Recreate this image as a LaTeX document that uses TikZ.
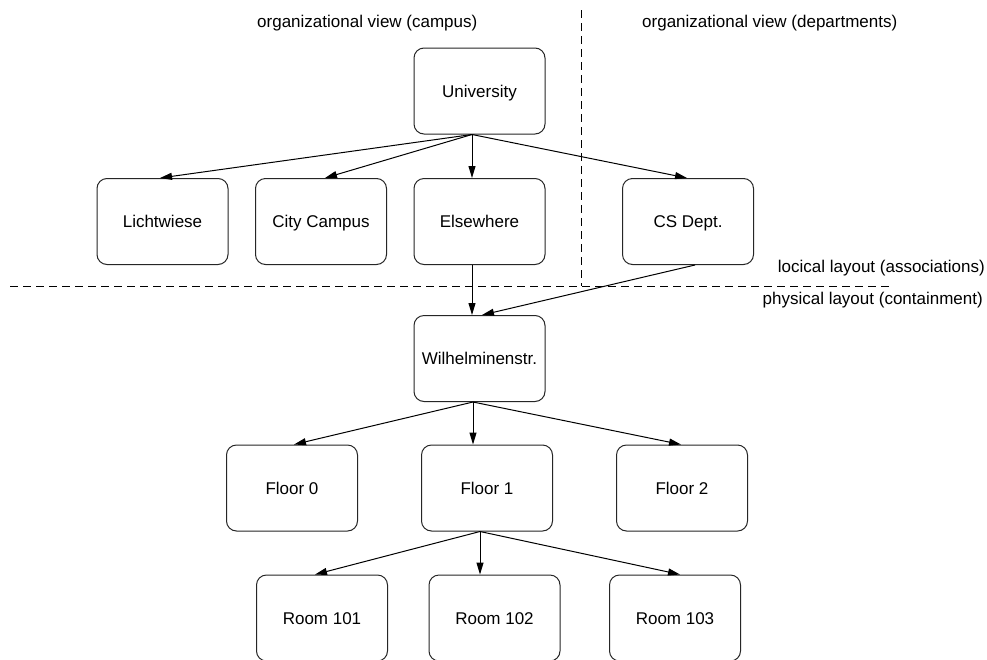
\documentclass[tikz,border=0pt]{standalone}
\usepackage{fontspec}
\setmainfont{Liberation Sans}
\usetikzlibrary{arrows.meta}

\begin{document}
\begin{tikzpicture}[x=1pt,y=-1pt,
  every node/.style={font=\fontsize{17}{20}\selectfont},
  box/.style={draw=black!85, line width=1pt, rounded corners=10pt,
    minimum width=131pt, minimum height=86pt, inner sep=0pt,
    text height=12pt, text depth=0pt},
  link/.style={line width=1pt, -{Triangle[length=12pt,width=7pt]}},
  divider/.style={line width=0.9pt, dash pattern=on 8pt off 5pt},
  caption/.style={inner sep=0pt}]

  \fill[white] (0,0) rectangle (987,659);
  \clip (0,0) rectangle (987,659);
  \useasboundingbox (0,0) rectangle (987,659);

  % section separators
  \coordinate (vtop) at (581,10);
  \coordinate (vbot) at (581,286);
  \coordinate (hleft) at (10,286);
  \coordinate (hright) at (893,286);
  \draw[divider] (vtop) -- (vbot);
  \draw[divider] (hleft) -- (hright);

  % section captions
  \node[caption, anchor=base west] (capcampus) at (257,27) {organizational view (campus)};
  \node[caption, anchor=base west] (capdept) at (642,27) {organizational view (departments)};
  \node[caption, anchor=base east] (caplogic) at (985,272) {locical layout (associations)};
  \node[caption, anchor=base east] (capphys) at (983,304) {physical layout (containment)};

  % organizational level
  \node[box] (uni) at (479.5,91) {University};
  \node[box] (lw) at (162.5,221.5) {Lichtwiese};
  \node[box] (cc) at (321,221.5) {City Campus};
  \node[box] (el) at (479.5,221.5) {Elsewhere};
  \node[box] (cs) at (688,221.5) {CS Dept.};

  % physical level
  \node[box] (wi) at (479.5,358.5) {Wilhelminenstr.};
  \node[box] (f0) at (292,488) {Floor 0};
  \node[box] (f1) at (487,488) {Floor 1};
  \node[box] (f2) at (682,488) {Floor 2};
  \node[box] (r101) at (322,618) {Room 101};
  \node[box] (r102) at (494.5,618) {Room 102};
  \node[box] (r103) at (675,618) {Room 103};

  % associations
  \draw[link] ([xshift=-7.5pt]uni.south) -- ([xshift=-2.5pt]lw.north);
  \draw[link] ([xshift=-7.5pt]uni.south) -- ([xshift=4pt]cc.north);
  \draw[link] ([xshift=-7.5pt]uni.south) -- ([xshift=-7.5pt]el.north);
  \draw[link] ([xshift=-7.5pt]uni.south) -- ([xshift=-1pt]cs.north);
  \draw[link] ([xshift=-7.5pt]el.south) -- ([xshift=-7.5pt]wi.north);
  \draw[link] ([xshift=7pt]cs.south) -- ([xshift=2.5pt]wi.north);

  % containment
  \draw[link] ([xshift=-6.5pt]wi.south) -- ([xshift=2pt]f0.north);
  \draw[link] ([xshift=-6.5pt]wi.south) -- ([xshift=-14pt]f1.north);
  \draw[link] ([xshift=-6.5pt]wi.south) -- ([xshift=-1pt]f2.north);
  \draw[link] ([xshift=-7pt]f1.south) -- ([xshift=-7pt]r101.north);
  \draw[link] ([xshift=-7pt]f1.south) -- ([xshift=-14.5pt]r102.north);
  \draw[link] ([xshift=-7pt]f1.south) -- ([xshift=5pt]r103.north);
\end{tikzpicture}
\end{document}
